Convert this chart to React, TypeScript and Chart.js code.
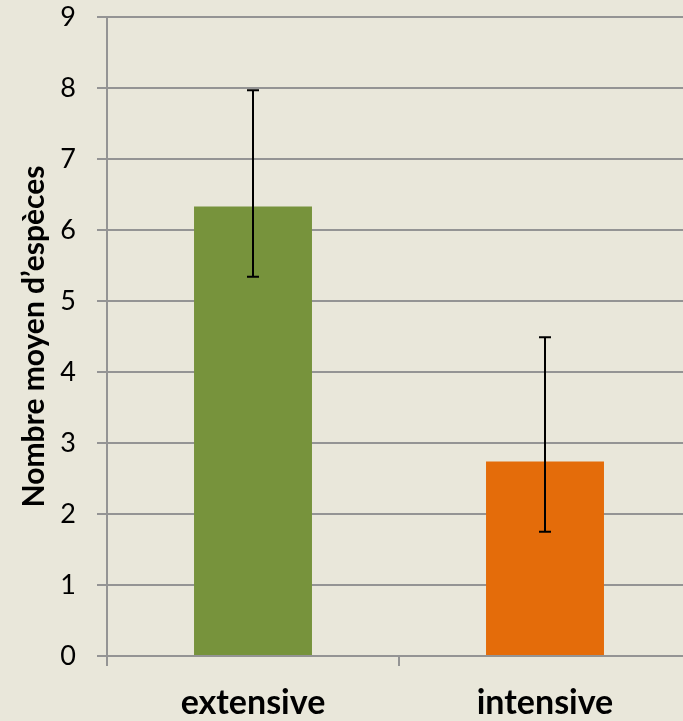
import { useEffect, useRef } from 'react';
import { Chart, registerables } from 'chart.js';

Chart.register(...registerables);

const categories = ['extensive', 'intensive'];
const meanValues = [6.33, 2.74];
const errorLow = [5.34, 1.75];
const errorHigh = [7.97, 4.49];
const barColors = ['#77933C', '#E46C0A'];
const yTitle = 'Nombre moyen d’espèces';

const BG = '#E9E7DA';
const GRID = '#949494';
const FONT = 'Lato';

const errorBarPlugin = {
  id: 'errorBars',
  afterDatasetsDraw(chart: any) {
    const { ctx, scales } = chart;
    const y = scales.y;
    const meta = chart.getDatasetMeta(0);
    ctx.save();
    ctx.strokeStyle = '#000';
    ctx.lineWidth = 2;
    meta.data.forEach((bar: any, i: number) => {
      const x = Math.round(bar.x);
      const top = y.getPixelForValue(errorHigh[i]);
      const bot = y.getPixelForValue(errorLow[i]);
      ctx.beginPath();
      ctx.moveTo(x, top);
      ctx.lineTo(x, bot);
      ctx.moveTo(x - 6, top);
      ctx.lineTo(x + 6, top);
      ctx.moveTo(x - 6, bot);
      ctx.lineTo(x + 6, bot);
      ctx.stroke();
    });
    ctx.restore();
  },
};

export default function App() {
  const ref = useRef<HTMLCanvasElement | null>(null);

  useEffect(() => {
    document.body.style.margin = '0';
    document.body.style.background = BG;
    document.body.style.overflow = 'hidden';
    if (!ref.current) return;
    const chart = new Chart(ref.current, {
      type: 'bar',
      data: {
        labels: categories,
        datasets: [
          {
            data: meanValues,
            backgroundColor: barColors,
            borderWidth: 0,
            barPercentage: 0.404,
            categoryPercentage: 1,
          },
        ],
      },
      options: {
        responsive: false,
        animation: false,
        layout: { padding: { top: 17, left: 0, right: 0, bottom: 0 } },
        plugins: {
          legend: { display: false },
          tooltip: { enabled: false },
        },
        scales: {
          x: {
            grid: {
              offset: true,
              drawOnChartArea: false,
              drawTicks: true,
              tickLength: 10,
              color: GRID,
              lineWidth: 2,
            },
            border: { display: false },
            ticks: {
              color: '#000',
              padding: 17,
              font: { family: FONT, size: 34, weight: 'bold' },
            },
            afterFit: (s: any) => {
              s.height = 65;
              s.paddingLeft = 0;
              s.paddingRight = 0;
            },
          },
          y: {
            min: 0,
            max: 9,
            ticks: {
              stepSize: 1,
              color: '#000',
              padding: 21,
              font: { family: FONT, size: 27 },
            },
            grid: {
              color: GRID,
              lineWidth: 2,
              tickLength: 10,
            },
            border: { display: true, color: GRID, width: 2 },
            title: {
              display: true,
              text: yTitle,
              color: '#000',
              padding: { top: 16, bottom: 0 },
              font: { family: FONT, size: 30, weight: 'bold' },
            },
            afterFit: (s: any) => {
              s.width = 107;
              s.paddingTop = 0;
              s.paddingBottom = 0;
            },
          },
        },
      },
      plugins: [errorBarPlugin],
    });
    return () => chart.destroy();
  }, []);

  return (
    <div
      style={{
        position: 'fixed',
        left: 0,
        top: 0,
        width: 683,
        height: 721,
        overflow: 'hidden',
        background: BG,
      }}
    >
      <canvas ref={ref} width={691} height={721} style={{ display: 'block' }} />
    </div>
  );
}
